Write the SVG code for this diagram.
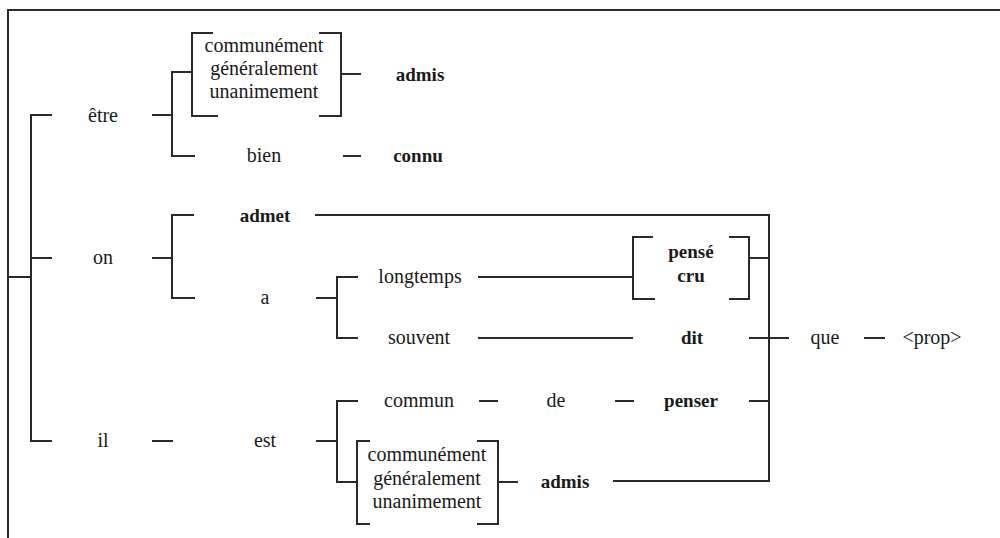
<svg xmlns="http://www.w3.org/2000/svg" width="1000" height="538" viewBox="0 0 1000 538">
<style>
.ln{fill:none;stroke:#2a2a2a;stroke-width:2}
text{font-family:"Liberation Serif","Times New Roman",serif;font-size:20px;fill:#1a1a1a;text-anchor:middle}
.b{font-weight:bold;font-size:19px}
</style>
<rect width="1000" height="538" fill="#fff"/>
<path class="ln" d="M8,538 V10 H1000"/>
<g id="connectors">
<path class="ln" d="M8,277 H31 M52,115 H31 V441 H52 M31,258 H52"/>
<path class="ln" d="M152,115 H172 M192,72 H172 V156 H195"/>
<path class="ln" d="M213,33 H192 V116 H218 M319,33 H341 V116 H319 M341,74 H361"/>
<path class="ln" d="M343,156 H361"/>
<path class="ln" d="M152,258 H172 M194,215 H172 V298 H195"/>
<path class="ln" d="M315,215 H769 V481 H613"/>
<path class="ln" d="M316,298 H337 M358,277 H337 V338 H358"/>
<path class="ln" d="M478,277 H633 M478,338 H633"/>
<path class="ln" d="M653,237 H633 V299 H655 M729,237 H749 V299 H729 M749,258 H769"/>
<path class="ln" d="M749,338 H789 M864,338 H885"/>
<path class="ln" d="M152,441 H173 M316,441 H337 M358,401 H337 V482 H357"/>
<path class="ln" d="M479,401 H498 M615,401 H634 M749,401 H769"/>
<path class="ln" d="M370,441 H357 V524 H370 M477,441 H498 V524 H477 M498,482 H518"/>
</g>
<g id="n-etre"><text x="103" y="122">être</text></g>
<g id="n-on"><text x="103" y="264">on</text></g>
<g id="n-il"><text x="103" y="447">il</text></g>
<g id="n-adv1"><text x="264" y="52">communément</text><text x="264" y="75">généralement</text><text x="264" y="98">unanimement</text></g>
<g id="n-admis1"><text class="b" x="420" y="81">admis</text></g>
<g id="n-bien"><text x="264" y="162">bien</text></g>
<g id="n-connu"><text class="b" x="418" y="162">connu</text></g>
<g id="n-admet"><text class="b" x="265" y="222">admet</text></g>
<g id="n-a"><text x="265" y="304">a</text></g>
<g id="n-longtemps"><text x="420" y="283">longtemps</text></g>
<g id="n-souvent"><text x="419" y="344">souvent</text></g>
<g id="n-pense"><text class="b" x="691" y="258">pensé</text><text class="b" x="691" y="282">cru</text></g>
<g id="n-dit"><text class="b" x="692" y="344">dit</text></g>
<g id="n-que"><text x="825" y="344">que</text></g>
<g id="n-prop"><text x="932" y="344">&lt;prop&gt;</text></g>
<g id="n-est"><text x="265" y="447">est</text></g>
<g id="n-commun"><text x="419" y="407">commun</text></g>
<g id="n-de"><text x="556" y="407">de</text></g>
<g id="n-penser"><text class="b" x="691" y="407">penser</text></g>
<g id="n-adv2"><text x="427" y="461">communément</text><text x="427" y="485">généralement</text><text x="427" y="508">unanimement</text></g>
<g id="n-admis2"><text class="b" x="565" y="488">admis</text></g>
</svg>
